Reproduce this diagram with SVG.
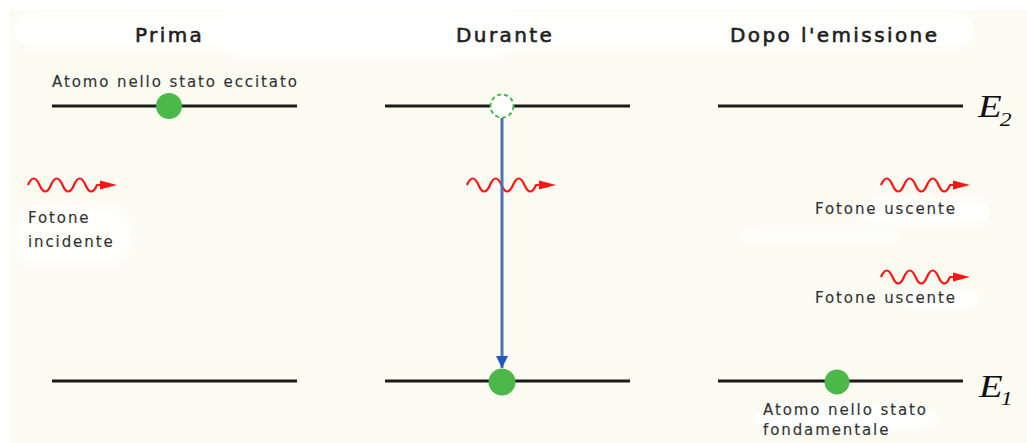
<svg xmlns="http://www.w3.org/2000/svg" width="1027" height="443" viewBox="0 0 1027 443">
  <defs>
    <style>
      .hdr { font-family: "DejaVu Sans", Verdana, sans-serif; font-size: 20px; letter-spacing: 2.4px; fill: #1e1e1e; stroke: #1e1e1e; stroke-width: 0.6; }
      .lbl { font-family: "DejaVu Sans", Verdana, sans-serif; font-size: 15px; letter-spacing: 1.9px; fill: #333; stroke: #333; stroke-width: 0.15; }
      .lvl { stroke: #1a1a1a; stroke-width: 3.2; fill: none; }
      .atom { fill: #4cb84a; }
      .wave { fill: none; stroke: #ff1414; stroke-width: 2.2; stroke-linejoin: round; }
      .head { fill: #ff1414; }
      .en { font-family: "Liberation Serif", "Times New Roman", serif; font-style: italic; fill: #111; }
      .blob { fill: #ffffff; filter: url(#soft); }
    </style>
    <filter id="soft" x="-20%" y="-50%" width="140%" height="200%">
      <feGaussianBlur stdDeviation="4"/>
    </filter>
    <marker id="blueArrow" viewBox="0 0 10 10" refX="10" refY="5" markerWidth="4" markerHeight="5" orient="auto" markerUnits="strokeWidth">
      <path d="M0,0 L10,5 L0,10 z" fill="#2456b6"/>
    </marker>
    <g id="photon">
      <path class="wave" d="M0,0 q5.75,-13 11.5,0 t11.5,0 t11.5,0 t11.5,0 t11.5,0 t11.5,0 L75,0"/>
      <path class="head" d="M72,-4.5 L89,0 L72,4.5 z"/>
    </g>
  </defs>

  <rect x="10" y="10" width="1017" height="433" fill="#fbfbf2"/>

  <g id="background-blobs">
    <rect class="blob" x="14" y="12" width="960" height="36" rx="18"/>
    <rect class="blob" x="220" y="14" width="300" height="42" rx="20"/>
    <rect class="blob" x="14" y="206" width="118" height="60" rx="24" opacity="0.8"/>
    <rect class="blob" x="860" y="200" width="130" height="24" rx="12"/>
    <rect class="blob" x="740" y="228" width="160" height="14" rx="7" opacity="0.6"/>
    <rect class="blob" x="900" y="290" width="80" height="18" rx="9"/>
    <ellipse class="blob" cx="845" cy="418" rx="95" ry="14"/>
  </g>

  <g id="headers">
    <text class="hdr" x="135" y="42">Prima</text>
    <text class="hdr" x="456" y="42">Durante</text>
    <text class="hdr" x="730" y="42">Dopo l'emissione</text>
  </g>

  <g id="energy-labels">
    <text class="en" transform="translate(978,117) scale(1.25,1)" font-size="31">E<tspan font-size="19" dy="9" dx="-1.5">2</tspan></text>
    <text class="en" transform="translate(979,397) scale(1.25,1)" font-size="31">E<tspan font-size="19" dy="8" dx="-1.5">1</tspan></text>
  </g>

  <g id="col-prima">
    <line class="lvl" x1="52" y1="106" x2="297" y2="106"/>
    <line class="lvl" x1="52" y1="381" x2="297" y2="381"/>
    <text class="lbl" x="52" y="87">Atomo nello stato eccitato</text>
    <circle class="atom" cx="169" cy="106" r="13"/>
    <use href="#photon" x="28" y="185"/>
    <text class="lbl" x="28" y="223" font-size="16" letter-spacing="2.7">Fotone</text>
    <text class="lbl" x="28" y="247" font-size="16" letter-spacing="2.5">incidente</text>
  </g>

  <g id="col-durante">
    <line class="lvl" x1="385" y1="106" x2="630" y2="106"/>
    <line class="lvl" x1="385" y1="381" x2="630" y2="381"/>
    <circle cx="502" cy="106" r="11.5" fill="#ffffff" stroke="#4cb84a" stroke-width="2" stroke-dasharray="4 3"/>
    <use href="#photon" x="467" y="185"/>
    <circle class="atom" cx="502" cy="382" r="13.5"/>
  </g>

  <g id="connectors">
    <line x1="502" y1="118" x2="502" y2="368" stroke="#4f70b8" stroke-width="3" marker-end="url(#blueArrow)"/>
  </g>

  <g id="col-dopo">
    <line class="lvl" x1="718" y1="106" x2="963" y2="106"/>
    <line class="lvl" x1="718" y1="381" x2="963" y2="381"/>
    <use href="#photon" x="881" y="185"/>
    <text class="lbl" x="815" y="214" letter-spacing="2">Fotone uscente</text>
    <use href="#photon" x="881" y="277"/>
    <text class="lbl" x="815" y="303" letter-spacing="2">Fotone uscente</text>
    <circle class="atom" cx="837" cy="382" r="12.5"/>
    <text class="lbl" x="763" y="415" letter-spacing="1.8">Atomo nello stato</text>
    <text class="lbl" x="763" y="435" letter-spacing="1.8">fondamentale</text>
  </g>
</svg>
